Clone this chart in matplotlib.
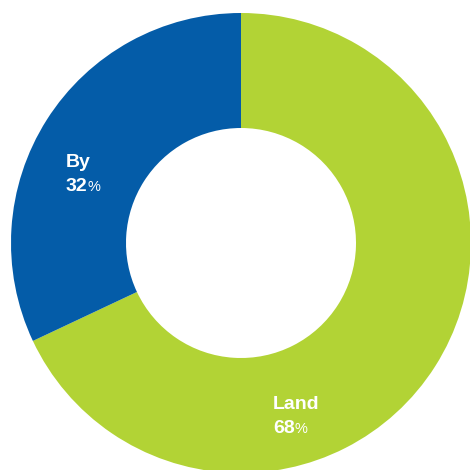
import matplotlib.pyplot as plt

labels = ["Land", "By"]
shares = [68, 32]
colors = ["#B2D335", "#045CA8"]

plt.rcParams['font.family'] = ['Liberation Sans', 'DejaVu Sans']

fig = plt.figure(figsize=(4.7, 4.7), dpi=100)
ax = fig.add_axes([0, 0, 1, 1])

ax.pie(shares, colors=colors, startangle=90, counterclock=False,
       radius=230, wedgeprops=dict(width=115, linewidth=0))
ax.set_xlim(-241, 229)
ax.set_ylim(-227, 243)
ax.set_aspect('equal')
ax.axis('off')

# name and share, share followed by a smaller percent sign
label_pos = {"By": (-175, 76), "Land": (32, -166)}
for name, value in zip(labels, shares):
    x, y = label_pos[name]
    ax.text(x, y, name, color='white', fontsize=14, fontweight='bold',
            ha='left', va='baseline')
    num = ax.text(x, y - 24, f"{value}", color='white', fontsize=14,
                  fontweight='bold', ha='left', va='baseline')
    ax.annotate("%", xy=(1, 0), xycoords=num, xytext=(-0.3, 0.8),
                textcoords='offset points', color='white', fontsize=10.5,
                ha='left', va='bottom')

fig.savefig("out.png", dpi=100)
